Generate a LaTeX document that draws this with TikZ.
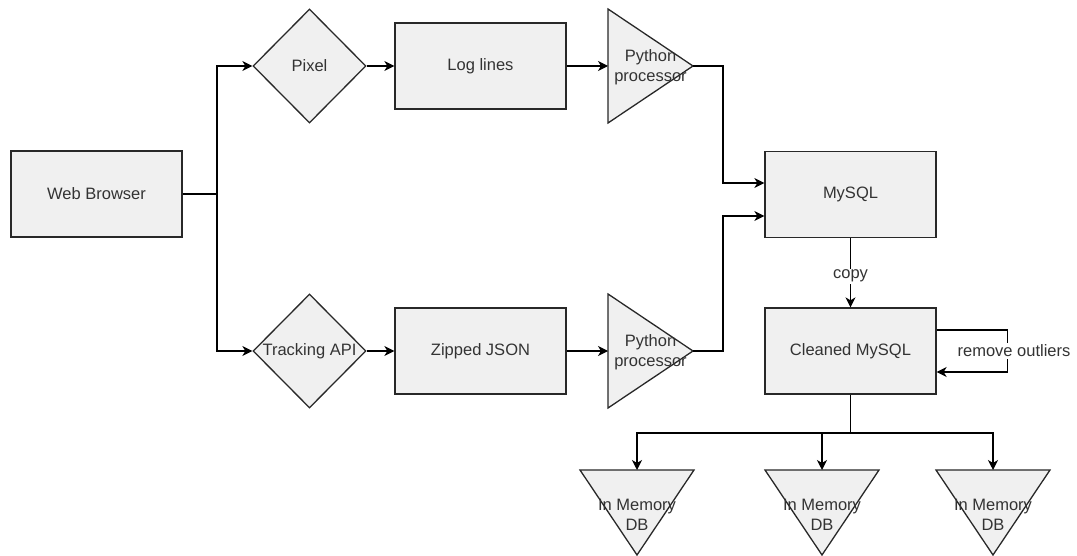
\documentclass[tikz,border=0pt]{standalone}
\usepackage{fontspec}
\setmainfont{Liberation Sans}
\usetikzlibrary{
    arrows.meta,
    positioning,
    calc,
    shapes.geometric
}
\definecolor{shapeFill}{RGB}{240,240,240}
\definecolor{shapeLine}{RGB}{40,40,40}
\definecolor{textGray}{RGB}{51,51,51}
\tikzset{
  box/.style   = {draw=shapeLine, fill=shapeFill, line width=1.3pt,
                  minimum width=171pt, minimum height=86pt, align=center},
  gate/.style  = {draw=shapeLine, fill=shapeFill, line width=1.3pt, diamond,
                  minimum width=113pt, minimum height=114pt, inner sep=0pt},
  tri/.style   = {draw=shapeLine, fill=shapeFill, line width=1.3pt},
  txt/.style   = {align=center, inner sep=0pt},
  lbl/.style   = {fill=white, inner sep=1.5pt},
  arr/.style   = {-{Stealth[length=10pt, width=10pt, inset=3pt]}, line width=1.3pt, black},
  ln/.style    = {line width=1.3pt, black}
}

\begin{document}
\begin{tikzpicture}[x=1pt, y=-1pt,
    every node/.style={font=\fontsize{16.5}{19.5}\selectfont, text=textGray}]
  \useasboundingbox (0,0) rectangle (1077,556);

  % Sources
  \node[box] (web) at (96.5,194) {Web Browser};
  \node[gate] (pixel) at (309.5,66) {Pixel};
  \node[gate] (track) at (309.5,351) {Tracking API};
  \node[box] (log) at (480.5,66) {Log lines};
  \node[box] (zip) at (480.5,351) {Zipped JSON};

  % Processors
  \draw[tri] (608,9) -- (693,66) -- (608,123) -- cycle;
  \draw[tri] (608,294) -- (693,351) -- (608,408) -- cycle;
  \coordinate (py1in) at (608,66);
  \coordinate (py1out) at (693,66);
  \coordinate (py2in) at (608,351);
  \coordinate (py2out) at (693,351);
  \node[txt] (py1) at (650.5,67) {Python\\processor};
  \node[txt] (py2) at (650.5,352) {Python\\processor};

  % Databases
  \node[box] (mysql) at (850.5,194.5) {MySQL};
  \node[box] (clean) at (850.5,351) {Cleaned MySQL};

  % In memory copies
  \draw[tri] (580,470) -- (694,470) -- (637,555) -- cycle;
  \draw[tri] (765,470) -- (879,470) -- (822,555) -- cycle;
  \draw[tri] (936,470) -- (1050,470) -- (993,555) -- cycle;
  \coordinate (mem1top) at (637,470);
  \coordinate (mem2top) at (822,470);
  \coordinate (mem3top) at (993,470);
  \node[txt] (mem1) at (637,515) {In Memory\\DB};
  \node[txt] (mem2) at (822,515) {In Memory\\DB};
  \node[txt] (mem3) at (993,515) {In Memory\\DB};

  % Browser fan out
  \coordinate (fork) at (217,194);
  \draw[ln] (web.east) -- (fork);
  \draw[arr] (fork) |- (pixel.west);
  \draw[arr] (fork) |- (track.west);

  % Pipelines
  \draw[arr] (pixel.east) -- (log.west);
  \draw[arr] (track.east) -- (zip.west);
  \draw[arr] (log.east) -- (py1in);
  \draw[arr] (zip.east) -- (py2in);
  \draw[arr] (py1out) -- ++(30,0) |- ([yshift=11.5pt]mysql.west);
  \draw[arr] (py2out) -- ++(30,0) |- ([yshift=-21.5pt]mysql.west);

  % Copy and cleaning
  \draw[arr] (mysql.south) -- (clean.north) node[lbl, pos=0.55]{copy};
  \draw[arr] ([yshift=21pt]clean.east) -- ++(71,0) |- ([yshift=-21pt]clean.east);
  \node[lbl] (outl) at (1014,351) {remove outliers};

  % Split to memory DBs
  \coordinate (split) at (850.5,433);
  \draw[ln] (clean.south) -- (split);
  \draw[arr] (split) -| (mem1top);
  \draw[arr] (split) -| (mem2top);
  \draw[arr] (split) -| (mem3top);
\end{tikzpicture}
\end{document}
